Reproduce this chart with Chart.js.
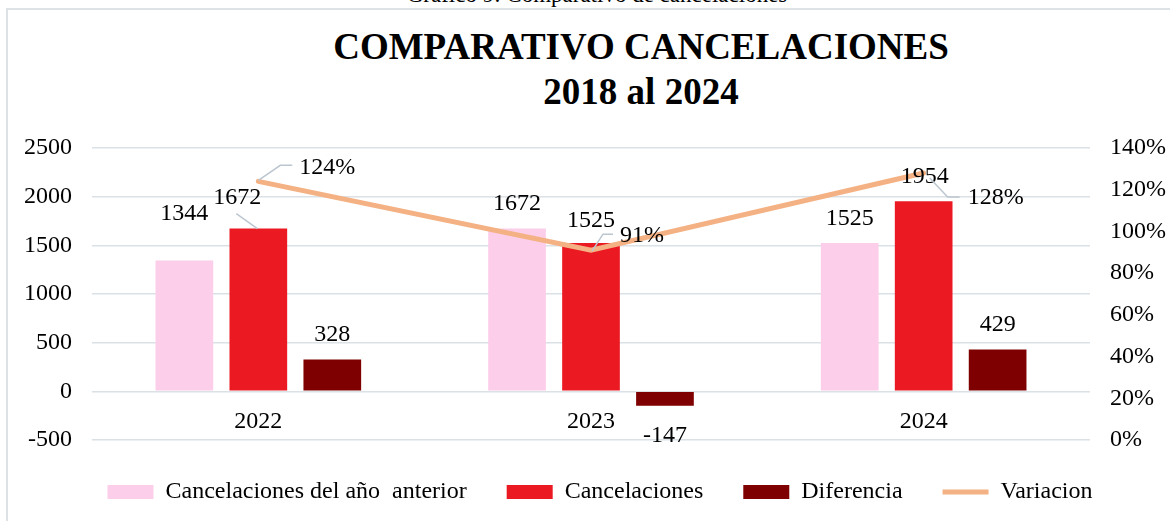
<!DOCTYPE html>
<html>
<head>
<meta charset="utf-8">
<script src="https://cdn.jsdelivr.net/npm/chart.js@4"></script>
<style>
  body { margin: 0; width: 1170px; height: 521px; overflow: hidden; background: #fff; position: relative; font-family: "Liberation Serif", "Times New Roman", serif; }
  #caption { position: absolute; left: 0; width: 1194px; top: -15px; text-align: center; font-size: 23px; line-height: 20px; }
  #frame { position: absolute; left: 6px; top: 8px; width: 1300px; height: 600px; border-left: 2px solid #DDE2E7; border-top: 2px solid #DDE2E7; }
  #title { position: absolute; left: 0; width: 1282px; top: 24px; text-align: center; font-weight: bold; font-size: 37px; line-height: 45px; }
  #chart { position: absolute; left: 0; top: 0; }
</style>
</head>
<body>
<div id="caption">Gráfico 9: Comparativo de cancelaciones</div>
<div id="frame"></div>
<div id="title">COMPARATIVO CANCELACIONES<br>2018 al 2024</div>
<canvas id="chart" width="1180" height="521"></canvas>
<script>
// data
const years = ['2022', '2023', '2024'];
const prevYear = [1344, 1672, 1525];
const cancelaciones = [1672, 1525, 1954];
const diferencia = [328, -147, 429];
const variacion = [124, 91, 128]; // percent

const leftTicks = { min: -500, max: 2500, step: 500 };
const rightTicks = { min: 0, max: 140, step: 20 };

const FONT = '"Liberation Serif", "Times New Roman", serif';

// label placement per dataset (dx, dy from the bar end / point, optional leader line)
const labelPlacement = [
  [{ dx: 0, dy: -47 }, { dx: 0, dy: -25 }, { dx: 0, dy: -24 }],
  [{ dx: -21, dy: -31, leader: [[-22, -15], [-1, 0]] }, { dx: 0, dy: -22 }, { dx: 1, dy: -24 }],
  [{ dx: 0, dy: -25 }, { dx: 0, dy: 30 }, { dx: 0, dy: -25 }],
  [{ dx: 69, dy: -14, leader: [[0, -1], [22, -16], [34, -16]] },
   { dx: 51, dy: -14, leader: [[1, 1], [12, -16], [22, -16]] },
   { dx: 72, dy: 25, leader: [[6, 5], [24, 24], [36, 24]] }]
];

const valueLabels = {
  id: 'valueLabels',
  afterDatasetsDraw(chart) {
    const ctx = chart.ctx;
    ctx.save();
    chart.data.datasets.forEach((ds, di) => {
      const meta = chart.getDatasetMeta(di);
      meta.data.forEach((el, i) => {
        const p = labelPlacement[di][i];
        if (p.leader) {
          ctx.beginPath();
          ctx.strokeStyle = '#BCC6D0';
          ctx.lineWidth = 1.5;
          p.leader.forEach((pt, k) => {
            if (k === 0) ctx.moveTo(el.x + pt[0], el.y + pt[1]);
            else ctx.lineTo(el.x + pt[0], el.y + pt[1]);
          });
          ctx.stroke();
        }
        const v = ds.data[i];
        const txt = ds.type === 'line' ? v + '%' : String(v);
        ctx.font = '24px ' + FONT;
        ctx.fillStyle = '#000';
        ctx.textAlign = 'center';
        ctx.textBaseline = 'middle';
        ctx.fillText(txt, el.x + p.dx, el.y + p.dy);
      });
    });
    ctx.restore();
  }
};

const ctx = document.getElementById('chart').getContext('2d');
new Chart(ctx, {
  type: 'bar',
  data: {
    labels: years,
    datasets: [
      { label: 'Cancelaciones del año  anterior', data: prevYear, backgroundColor: '#FCCEEA', yAxisID: 'y', order: 1, pointStyle: 'rect' },
      { label: 'Cancelaciones', data: cancelaciones, backgroundColor: '#EB1A22', yAxisID: 'y', order: 1, pointStyle: 'rect' },
      { label: 'Diferencia', data: diferencia, backgroundColor: '#7F0000', yAxisID: 'y', order: 1, pointStyle: 'rect' },
      { type: 'line', label: 'Variacion', data: variacion, borderColor: '#F4B183', backgroundColor: '#F4B183',
        borderWidth: 5, borderCapStyle: 'round', pointRadius: 0, tension: 0, yAxisID: 'y1', order: 0, pointStyle: 'line' }
    ]
  },
  options: {
    responsive: false,
    animation: false,
    categoryPercentage: 0.667,
    barPercentage: 0.78,
    layout: { padding: { top: 148, left: 20, right: 0, bottom: 7 } },
    plugins: {
      tooltip: { enabled: false },
      legend: {
        position: 'bottom',
        labels: {
          usePointStyle: true,
          pointStyleWidth: 46,
          boxHeight: 14,
          padding: 40,
          color: '#000',
          font: { family: FONT, size: 24 },
          sort: (a, b) => a.datasetIndex - b.datasetIndex
        }
      }
    },
    scales: {
      x: {
        position: { y: 0 },
        grid: { display: false },
        border: { display: false },
        ticks: { color: '#000', padding: 8, font: { family: FONT, size: 24 } }
      },
      y: {
        position: 'left',
        min: leftTicks.min, max: leftTicks.max,
        ticks: { stepSize: leftTicks.step, color: '#000', padding: 20, font: { family: FONT, size: 24 }, callback: (v) => String(v) },
        grid: { color: '#DCE1E6', lineWidth: 1.5, drawTicks: false },
        border: { display: false },
        afterFit: (s) => { s.width = 72; }
      },
      y1: {
        position: 'right',
        min: rightTicks.min, max: rightTicks.max,
        ticks: { stepSize: rightTicks.step, color: '#000', padding: 20, font: { family: FONT, size: 24 }, callback: (v) => v + '%' },
        grid: { display: false, drawTicks: false },
        border: { display: false },
        afterFit: (s) => { s.width = 90; }
      }
    }
  },
  plugins: [valueLabels]
});
</script>
</body>
</html>
